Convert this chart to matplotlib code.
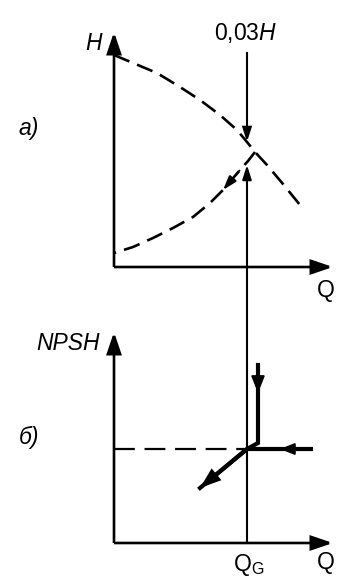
import matplotlib
matplotlib.use("Agg")
import matplotlib.pyplot as plt
from matplotlib.patches import FancyArrowPatch, ConnectionPatch, ArrowStyle

# ---- data (arbitrary units: Q to the right, H / NPSH upward) ----
# pump head curve H(Q)
Q_pump = [0, 19, 43, 66, 86, 106, 123, 133, 141, 153, 169, 186]
H_pump = [212, 204, 194, 180, 167, 152, 137, 125, 115, 102, 83, 62]
# system curve, listed from the operating point back to Q = 0
Q_sys = [141, 134, 126, 109, 96, 79, 59, 39, 19, 0]
H_sys = [115, 106, 97, 77, 64, 50, 39, 29, 20, 14]

Q_G = 133          # flow at which NPSH is read
H_down_tip = 125   # end of the "0,03H" arrow on the pump curve
H_up_tip = 102     # end of the rising Q_G line in panel a
H_label_top = 215  # start of the "0,03H" arrow

NPSH_G = 94
# thick path in panel b: descend, turn, run out diagonally
Q_path = [144, 144, 133, 86]
N_path = [178, 100, 94, 55]
# thick horizontal branch coming in from the right
Q_horiz = [199, 133]
N_horiz = [94, 94]

Q_axis_end = 219
H_axis_end = 235
N_axis_end = 211

labels_a = {"axis": "H", "panel": "a)", "note": "0,03$\\mathit{H}$", "q": "Q"}
labels_b = {"axis": "NPSH", "panel": "б)", "qg": "Q$_\\mathrm{G}$", "q": "Q"}

# ---- style ----
plt.rcParams["font.family"] = ["Liberation Sans", "DejaVu Sans"]
plt.rcParams["mathtext.fontset"] = "custom"
plt.rcParams["mathtext.rm"] = "Liberation Sans"
plt.rcParams["mathtext.it"] = "Liberation Sans:italic"
plt.rcParams["lines.scale_dashes"] = False

FS = 16.5
AX_LW = 1.9
THIN = 1.5
THICK = 3.0
DASH = (0, (12, 6))

fig = plt.figure(figsize=(3.42, 5.86), dpi=100)
fig.patch.set_facecolor("white")


def panel(origin_y):
    ax = fig.add_axes([0, 0, 1, 1])
    ax.set_xlim(-114, 342 - 114)
    ax.set_ylim(-(586 - origin_y), origin_y)
    ax.axis("off")
    ax.patch.set_alpha(0)
    return ax


ax_a = panel(267)
ax_b = panel(543)


def arrow(ax, tail, tip, lw, hl, hw, **kw):
    p = FancyArrowPatch(tail, tip,
                        arrowstyle=ArrowStyle("-|>", head_length=hl, head_width=hw),
                        mutation_scale=1, lw=lw, color="k",
                        shrinkA=0, shrinkB=0, joinstyle="miter",
                        capstyle="butt", **kw)
    ax.add_patch(p)
    return p


def axes_frame(ax, y_end):
    arrow(ax, (0, 0), (0, y_end), AX_LW, 13, 4.4)
    arrow(ax, (0, 0), (Q_axis_end, 0), AX_LW, 13, 4.4)


# ---- panel a ----
axes_frame(ax_a, H_axis_end)
ax_a.plot(Q_pump, H_pump, color="k", lw=1.9, linestyle=DASH)
ax_a.plot(Q_sys, H_sys, color="k", lw=1.9, linestyle=DASH)
arrow(ax_a, (Q_sys[2], H_sys[2]), (Q_sys[3], H_sys[3]), 1.2, 9, 2.9)
arrow(ax_a, (Q_G, H_label_top), (Q_G, H_down_tip), THIN, 8.5, 2.7)

ax_a.text(-20, 224, labels_a["axis"], fontsize=FS, style="italic",
          ha="center", va="center")
ax_a.text(Q_G - 1, 234, labels_a["note"], fontsize=FS, ha="center", va="center")
ax_a.text(-85, 139, labels_a["panel"], fontsize=FS, style="italic",
          ha="center", va="center")
ax_a.text(212, -23, labels_a["q"], fontsize=FS, ha="center", va="center")

# ---- panel b ----
axes_frame(ax_b, N_axis_end)
ax_b.plot([0, Q_G], [NPSH_G, NPSH_G], color="k", lw=1.6, linestyle=(0, (15, 7)))
ax_b.plot(Q_path, N_path, color="k", lw=THICK, solid_joinstyle="miter")
ax_b.plot(Q_horiz, N_horiz, color="k", lw=THICK, solid_capstyle="butt")
arrow(ax_b, (Q_path[-2], N_path[-2]), (Q_path[-1], N_path[-1]), THICK, 9.5, 3.4)
arrow(ax_b, (Q_path[0], 172), (Q_path[0], 150), 1.0, 11, 4.4)
arrow(ax_b, (186, NPSH_G), (166, NPSH_G), 1.0, 9.5, 3.8)

ax_b.text(-14, 199, labels_b["axis"], fontsize=FS, style="italic",
          ha="right", va="center")
ax_b.text(-85, 106, labels_b["panel"], fontsize=FS, style="italic",
          ha="center", va="center")
ax_b.text(Q_G + 2, -22, labels_b["qg"], fontsize=FS, ha="center", va="center")
ax_b.text(212, -20, labels_b["q"], fontsize=FS, ha="center", va="center")

# rising line at Q_G, from the NPSH diagram up into the head diagram
con = ConnectionPatch(xyA=(Q_G, 0), coordsA=ax_b.transData,
                      xyB=(Q_G, H_up_tip), coordsB=ax_a.transData,
                      arrowstyle=ArrowStyle("-|>", head_length=8.5, head_width=2.7),
                      mutation_scale=1, lw=THIN, color="k",
                      shrinkA=0, shrinkB=0)
fig.add_artist(con)

fig.savefig("out.png", dpi=100, facecolor="white")
